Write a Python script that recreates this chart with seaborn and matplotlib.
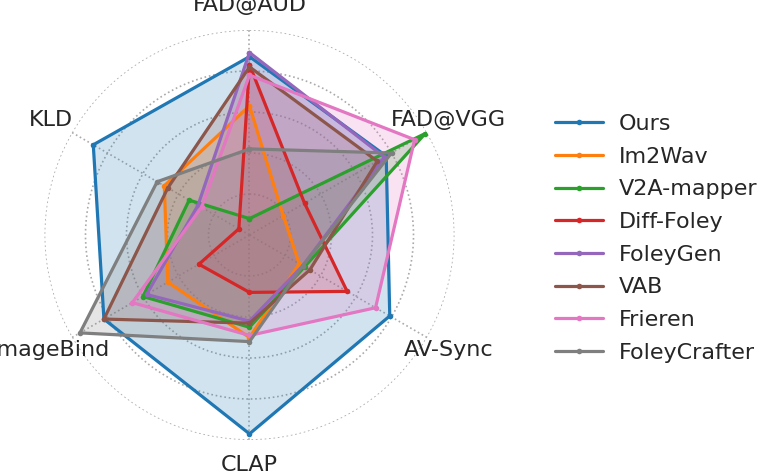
import numpy as np
import matplotlib
matplotlib.use("Agg")
import matplotlib.pyplot as plt
import seaborn as sns

# Axes of the radar, clockwise from the top
metrics = ['FAD@AUD', 'FAD@VGG', 'AV-Sync', 'CLAP', 'ImageBind', 'KLD']
methods = ['Ours', 'Im2Wav', 'V2A-mapper', 'Diff-Foley', 'FoleyGen', 'VAB', 'Frieren', 'FoleyCrafter']

# Normalised scores (same order as metrics)
ours = [0.87, 0.77, 0.79, 0.97, 0.82, 0.88]
im2wav = [0.63, 0.19, 0.28, 0.50, 0.46, 0.48]
v2a_mapper = [0.08, 0.99, 0.31, 0.45, 0.60, 0.34]
diff_foley = [0.83, 0.31, 0.55, 0.28, 0.285, 0.06]
foleygen = [0.89, 0.76, 0.30, 0.42, 0.58, 0.29]
vab = [0.82, 0.72, 0.34, 0.43, 0.82, 0.46]
frieren = [0.78, 0.93, 0.71, 0.49, 0.66, 0.27]
foleycrafter = [0.42, 0.80, 0.30, 0.52, 0.955, 0.52]

scores = [ours, im2wav, v2a_mapper, diff_foley, foleygen, vab, frieren, foleycrafter]

sns.set_style('white')
plt.rcParams['font.family'] = ['DejaVu Sans']
colors = sns.color_palette('tab10', len(methods))

angles = np.linspace(0, 2 * np.pi, len(metrics), endpoint=False)
angles_closed = np.append(angles, angles[0])

fig = plt.figure(figsize=(7.57, 4.75), dpi=100)
ax = fig.add_axes([44.5 / 757, 35 / 475, 410 / 757, 410 / 475], projection='polar')
ax.set_theta_offset(np.pi / 2)
ax.set_theta_direction(-1)

for name, vals, c in zip(methods, scores, colors):
    v = np.append(vals, vals[0])
    ax.plot(angles_closed, v, color=c, label=name, linewidth=2.3,
            marker='o', markersize=4, markeredgewidth=0)
    ax.fill(angles_closed, v, color=c, alpha=0.2)

ax.set_ylim(0, 1)
ax.set_yticks([0.2, 0.4, 0.6, 0.8, 1.0])
ax.set_yticklabels([])
ax.set_xticks(angles)
ax.set_xticklabels([])
ax.grid(True, color='#aaaaaa', linestyle=':', linewidth=1.2)
ax.spines['polar'].set_visible(False)

for a, lab in zip(angles, metrics):
    ax.text(a, 1.12, lab, ha='center', va='center', fontsize=16, clip_on=False)

ax.legend(loc='center left', bbox_to_anchor=(546 / 757, 0.498), bbox_transform=fig.transFigure,
          frameon=False, fontsize=16, labelspacing=0.57, handlelength=2.15,
          handletextpad=0.72, borderaxespad=0)

fig.savefig('out.png', dpi=100)
